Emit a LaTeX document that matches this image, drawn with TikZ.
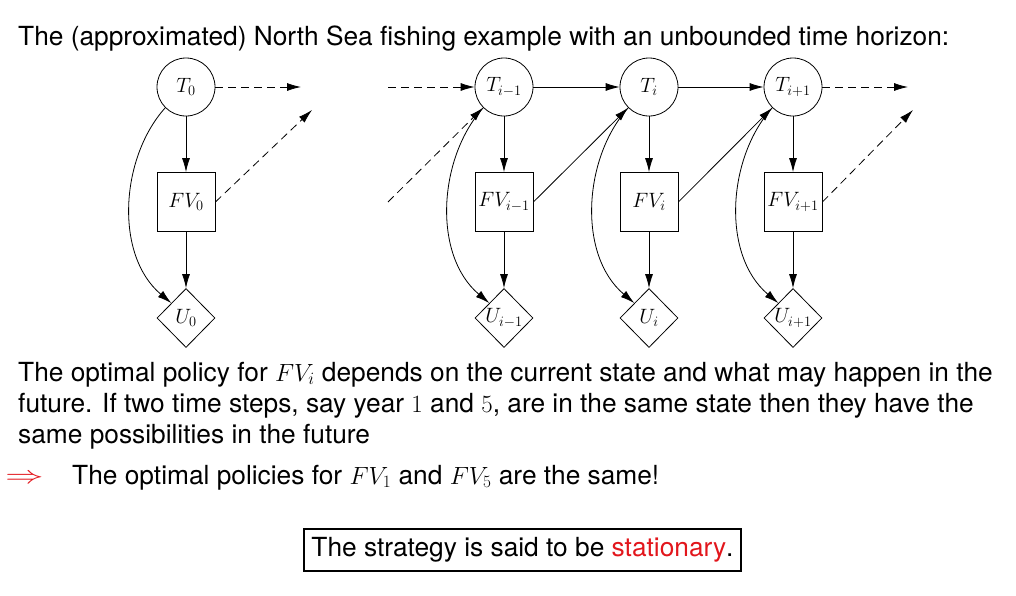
\documentclass[tikz,border=0pt]{standalone}
\usepackage[no-math]{fontspec}
\setmainfont{TeX Gyre Heros}
\usetikzlibrary{shapes.geometric,arrows.meta}
\definecolor{hired}{RGB}{226,22,28}
\begin{document}
\begin{tikzpicture}[x=1pt,y=-1pt,
  every node/.style={inner sep=0pt},
  txt/.style={anchor=base west,font=\fontsize{26.3}{31}\selectfont},
  chance/.style={circle,draw,line width=0.8pt,minimum size=58pt,font=\fontsize{21}{25}\selectfont},
  decis/.style={rectangle,draw,line width=0.8pt,minimum width=58pt,minimum height=59pt,font=\fontsize{21}{25}\selectfont},
  util/.style={diamond,draw,line width=0.8pt,minimum width=58pt,minimum height=59pt,font=\fontsize{20}{24}\selectfont},
  arr/.style={-{Latex[length=14pt,width=8pt]},line width=0.8pt},
  darr/.style={arr,dash pattern=on 8pt off 5pt}]
\useasboundingbox (0,0) rectangle (1016,595);

% title
\node[txt] (title) at (18,45) {The (approximated) North Sea fishing example with an unbounded time horizon:};

% nodes
\node[chance] (T0) at (186,87) {$T_0$};
\node[decis] (FV0) at (186,202) {$FV_0$};
\node[util] (U0) at (186,318) {$U_0$};

\node[chance] (Tm) at (504,87) {$T_{i-1}$};
\node[decis] (FVm) at (504,202) {$FV_{i-1}$};
\node[util] (Um) at (504,318) {$U_{i-1}$};

\node[chance] (Ti) at (649,87) {$T_i$};
\node[decis] (FVi) at (649,202) {$FV_i$};
\node[util] (Ui) at (649,318) {$U_i$};

\node[chance] (Tp) at (793,87) {$T_{i+1}$};
\node[decis] (FVp) at (793,202) {$FV_{i+1}$};
\node[util] (Up) at (793,318) {$U_{i+1}$};

\coordinate (c1) at (301,87);
\coordinate (c2) at (312,110);
\coordinate (c3) at (388,87);
\coordinate (c4) at (388,202);
\coordinate (c5) at (908,87);
\coordinate (c6) at (913,110);

% vertical arrows and curved arrows
\foreach \t/\f/\u in {T0/FV0/U0,Tm/FVm/Um,Ti/FVi/Ui,Tp/FVp/Up}{
  \draw[arr] (\t) -- (\f);
  \draw[arr] (\f) -- (\u);
  \draw[arr] (\t.225) .. controls +(-45,50) and +(-57,-48) .. (\u.north west);
}

% horizontal and diagonal
\draw[arr] (Tm) -- (Ti);
\draw[arr] (Ti) -- (Tp);
\draw[arr] (FVm.east) -- (Ti);
\draw[arr] (FVi.east) -- (Tp);

% dashed
\draw[darr] (T0) -- (c1);
\draw[darr] (FV0.east) -- (c2);
\draw[darr] (c3) -- (Tm);
\draw[darr] (c4) -- (Tm);
\draw[darr] (Tp) -- (c5);
\draw[darr] (FVp.east) -- (c6);

% paragraph
\node[txt] (l1) at (18,381) {The optimal policy for $FV_i$ depends on the current state and what may happen in the};
\node[txt] (l2) at (18,412) {future. If two time steps, say year $1$ and $5$, are in the same state then they have the};
\node[txt] (l3) at (18,443) {same possibilities in the future};

\node[anchor=base west,font=\fontsize{30}{31}\selectfont,text=hired] (impl) at (5,483) {\scalebox{1.55}[1]{$\Rightarrow$}};
\node[txt] (l4) at (72,484) {The optimal policies for $FV_1$ and $FV_5$ are the same!};

\node[draw,line width=2pt,minimum width=437pt,minimum height=42pt,font=\fontsize{26.3}{31}\selectfont] (box) at (522.5,550) {The strategy is said to be \textcolor{hired}{stationary}.};
\end{tikzpicture}
\end{document}
